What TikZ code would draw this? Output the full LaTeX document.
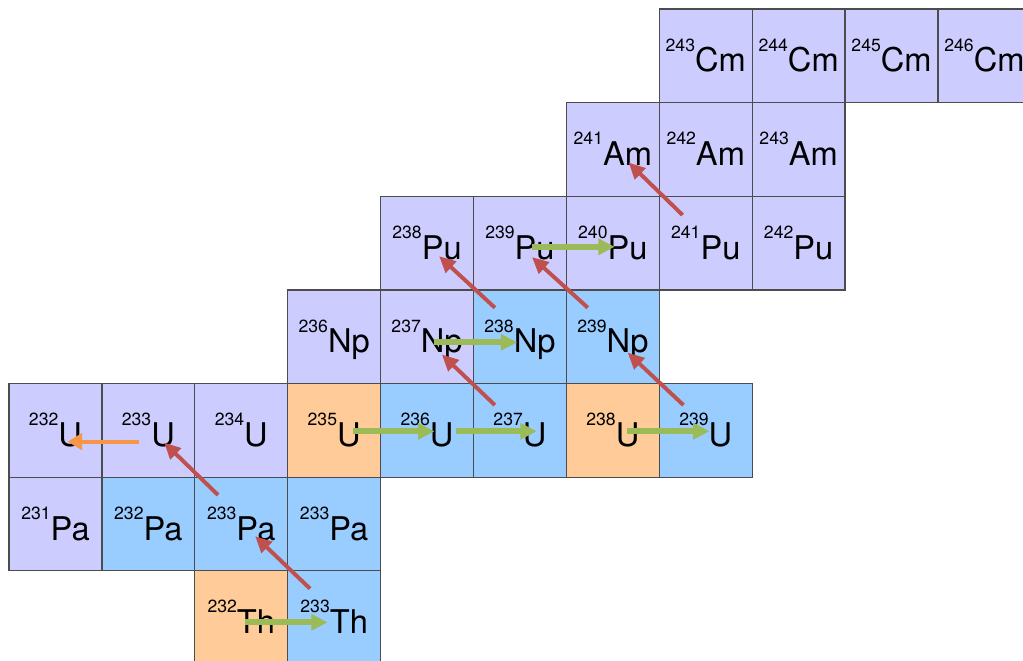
\documentclass[tikz,border=0pt]{standalone}
\usepackage{fontspec}
\setmainfont{TeX Gyre Heros}
\usepackage{xcolor}
\usepackage{tikz}
\usetikzlibrary{arrows.meta}
\definecolor{lav}{HTML}{CCCCFF}
\definecolor{sky}{HTML}{99CCFF}
\definecolor{peach}{HTML}{FFCC99}
\definecolor{capgreen}{HTML}{9BBB59}
\definecolor{betared}{HTML}{C0504D}
\definecolor{ntwoorange}{HTML}{F79646}
% mass number as a small raised prefix
\newcommand\nuc[2]{{\fontsize{5.4}{5.4}\selectfont\raisebox{6.4pt}{#1}}#2}
\tikzset{
  nuclide/.style={rectangle, draw=black!70, line width=0.4pt, fill=lav,
    minimum width=1cm, minimum height=1.008cm, inner sep=0pt,
    text height=9.9pt, text depth=0pt, font=\fontsize{10}{12}\selectfont},
  shortlived/.style={nuclide, fill=sky},
  fertile/.style={nuclide, fill=peach},
  capture/.style={-{Triangle[length=5pt,width=4.8pt]}, line width=1.9pt, capgreen},
  betadecay/.style={-{Triangle[length=5pt,width=4.6pt]}, line width=1.2pt, betared},
  ntwon/.style={-{Triangle[length=4.5pt,width=5pt]}, line width=1.2pt, ntwoorange}
}

\begin{document}
\begin{tikzpicture}[x=1cm, y=1.008cm]
  \useasboundingbox (-0.097,0.096) rectangle (10.915,-6.96);

  % curium
  \node[nuclide] (cm243) at (7.5,-0.5) {\nuc{243}{Cm}};
  \node[nuclide] (cm244) at (8.5,-0.5) {\nuc{244}{Cm}};
  \node[nuclide] (cm245) at (9.5,-0.5) {\nuc{245}{Cm}};
  \node[nuclide] (cm246) at (10.5,-0.5) {\nuc{246}{Cm}};
  % americium
  \node[nuclide] (am241) at (6.5,-1.5) {\nuc{241}{Am}};
  \node[nuclide] (am242) at (7.5,-1.5) {\nuc{242}{Am}};
  \node[nuclide] (am243) at (8.5,-1.5) {\nuc{243}{Am}};
  % plutonium
  \node[nuclide] (pu238) at (4.5,-2.5) {\nuc{238}{Pu}};
  \node[nuclide] (pu239) at (5.5,-2.5) {\nuc{239}{Pu}};
  \node[nuclide] (pu240) at (6.5,-2.5) {\nuc{240}{Pu}};
  \node[nuclide] (pu241) at (7.5,-2.5) {\nuc{241}{Pu}};
  \node[nuclide] (pu242) at (8.5,-2.5) {\nuc{242}{Pu}};
  % neptunium
  \node[nuclide] (np236) at (3.5,-3.5) {\nuc{236}{Np}};
  \node[nuclide] (np237) at (4.5,-3.5) {\nuc{237}{Np}};
  \node[shortlived] (np238) at (5.5,-3.5) {\nuc{238}{Np}};
  \node[shortlived] (np239) at (6.5,-3.5) {\nuc{239}{Np}};
  % uranium
  \node[nuclide] (u232) at (0.5,-4.5) {\nuc{232}{U}};
  \node[nuclide] (u233) at (1.5,-4.5) {\nuc{233}{U}};
  \node[nuclide] (u234) at (2.5,-4.5) {\nuc{234}{U}};
  \node[fertile] (u235) at (3.5,-4.5) {\nuc{235}{U}};
  \node[shortlived] (u236) at (4.5,-4.5) {\nuc{236}{U}};
  \node[shortlived] (u237) at (5.5,-4.5) {\nuc{237}{U}};
  \node[fertile] (u238) at (6.5,-4.5) {\nuc{238}{U}};
  \node[shortlived] (u239) at (7.5,-4.5) {\nuc{239}{U}};
  % protactinium
  \node[nuclide] (pa231) at (0.5,-5.5) {\nuc{231}{Pa}};
  \node[shortlived] (pa232) at (1.5,-5.5) {\nuc{232}{Pa}};
  \node[shortlived] (pa233) at (2.5,-5.5) {\nuc{233}{Pa}};
  \node[shortlived] (pa234) at (3.5,-5.5) {\nuc{233}{Pa}};
  % thorium
  \node[fertile] (th232) at (2.5,-6.5) {\nuc{232}{Th}};
  \node[shortlived] (th233) at (3.5,-6.5) {\nuc{233}{Th}};

  % neutron capture
  \draw[capture] ([shift={(0.04,-0.05)}]th232.center) -- ([shift={(-0.07,-0.05)}]th233.center);
  \draw[capture] ([shift={(0.2,-0.01)}]u235.center) -- ([shift={(0.08,-0.01)}]u236.center);
  \draw[capture] ([shift={(0.31,-0.01)}]u236.center) -- ([shift={(0.18,-0.01)}]u237.center);
  \draw[capture] ([shift={(0.15,-0.01)}]u238.center) -- ([shift={(0.04,-0.01)}]u239.center);
  \draw[capture] ([shift={(0.08,-0.06)}]np237.center) -- ([shift={(-0.03,-0.06)}]np238.center);
  \draw[capture] ([shift={(0.13,-0.04)}]pu239.center) -- ([shift={(0.02,-0.04)}]pu240.center);

  % beta decay
  \draw[betadecay] ([shift={(-0.26,0.31)}]th233.center) -- ([shift={(0.15,-0.13)}]pa233.center);
  \draw[betadecay] ([shift={(-0.25,0.31)}]pa233.center) -- ([shift={(0.17,-0.13)}]u233.center);
  \draw[betadecay] ([shift={(-0.27,0.27)}]u237.center) -- ([shift={(0.16,-0.19)}]np237.center);
  \draw[betadecay] ([shift={(-0.24,0.27)}]u239.center) -- ([shift={(0.16,-0.17)}]np239.center);
  \draw[betadecay] ([shift={(-0.27,0.31)}]np238.center) -- ([shift={(0.13,-0.14)}]pu238.center);
  \draw[betadecay] ([shift={(-0.27,0.31)}]np239.center) -- ([shift={(0.13,-0.15)}]pu239.center);
  \draw[betadecay] ([shift={(-0.25,0.30)}]pu241.center) -- ([shift={(0.17,-0.14)}]am241.center);

  % (n,2n)
  \draw[ntwon] ([shift={(-0.1,-0.12)}]u233.center) -- ([shift={(0.13,-0.12)}]u232.center);
\end{tikzpicture}
\end{document}
